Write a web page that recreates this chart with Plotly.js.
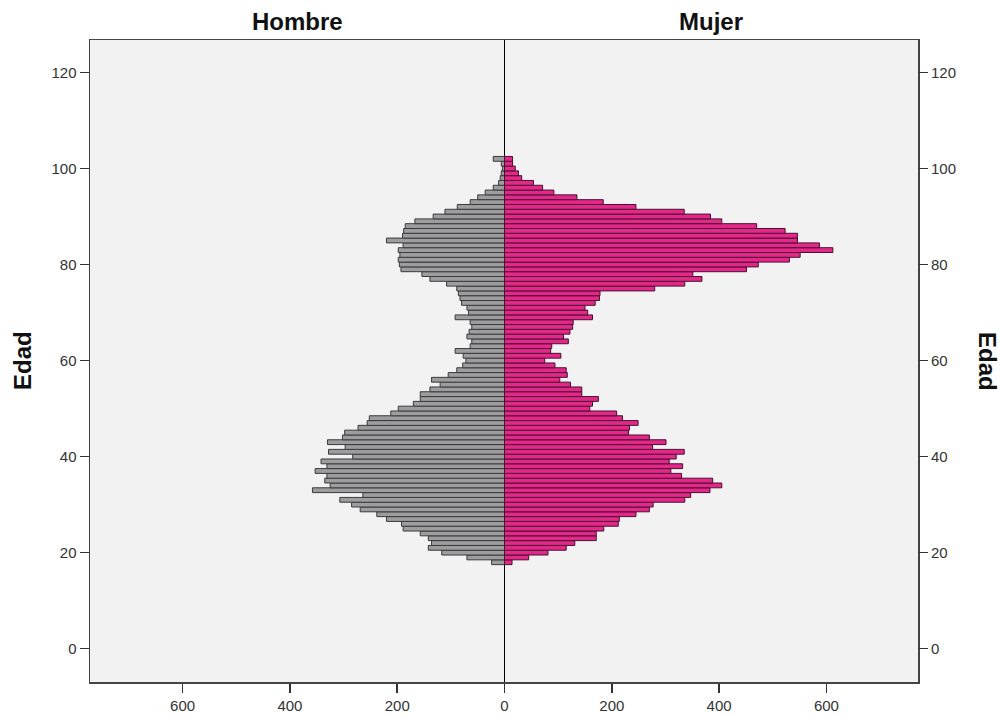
<!DOCTYPE html>
<html>
<head>
<meta charset="utf-8">
<script src="https://cdn.plot.ly/plotly-3.0.1.min.js"></script>
<style>html,body{margin:0;padding:0;background:#fff;}#chart{width:1000px;height:715px;}</style>
</head>
<body>
<div id="chart"></div>
<script>
// Ages 18..102
const ages = [];
for (let a = 18; a <= 102; a++) ages.push(a);

// Hombre counts (age 18 .. 102)
const hombre = [
  24, 70, 117, 142, 136, 142, 157, 189, 192, 220,   // 18-27
  238, 269, 285, 307, 264, 358, 325, 335, 331, 353, // 28-37
  331, 342, 283, 328, 297, 330, 302, 298, 273, 256, // 38-47
  252, 212, 198, 170, 157, 157, 139, 120, 136, 105, // 48-57
  89, 78, 72, 77, 92, 64, 61, 70, 66, 61,           // 58-67
  64, 92, 67, 70, 80, 83, 86, 89, 108, 139,         // 68-77
  154, 193, 196, 198, 195, 198, 189, 220, 190, 188, // 78-87
  185, 167, 133, 111, 88, 64, 50, 36, 21, 11,       // 88-97
  8, 6, 4, 6, 21                                    // 98-102
];

// Mujer counts (age 18 .. 102)
const mujer = [
  14, 45, 81, 115, 131, 171, 171, 185, 212, 214,    // 18-27
  245, 270, 277, 336, 347, 383, 405, 388, 330, 310, // 28-37
  332, 307, 320, 335, 276, 301, 270, 231, 233, 249, // 38-47
  220, 209, 159, 164, 175, 144, 144, 123, 103, 117, // 48-57
  115, 94, 75, 105, 86, 88, 119, 110, 122, 127,     // 58-67
  128, 164, 155, 150, 169, 177, 178, 280, 336, 368, // 68-77
  351, 451, 473, 531, 551, 612, 587, 546, 546, 523, // 78-87
  470, 405, 384, 335, 245, 184, 135, 92, 71, 54,    // 88-97
  32, 26, 20, 15, 15                                // 98-102
];

const xTickVals = [-600, -400, -200, 0, 200, 400, 600];
const xTickText = ['600', '400', '200', '0', '200', '400', '600'];
const yTickVals = [0, 20, 40, 60, 80, 100, 120];

const font = 'Liberation Sans, Arial, sans-serif';

const traces = [
  {
    type: 'bar', orientation: 'h', name: 'Hombre',
    y: ages, x: hombre.map(v => -v),
    marker: {color: '#9d9d9f', line: {color: '#3a3a3a', width: 1}},
    width: 1, hoverinfo: 'skip'
  },
  {
    type: 'bar', orientation: 'h', name: 'Mujer',
    y: ages, x: mujer,
    marker: {color: '#e3288a', line: {color: '#4a1030', width: 1}},
    width: 1, hoverinfo: 'skip'
  },
  {
    type: 'scatter', mode: 'markers', x: [], y: [], yaxis: 'y2', showlegend: false, hoverinfo: 'skip'
  }
];

const layout = {
  width: 1000, height: 715,
  margin: {l: 90, r: 82, t: 40, b: 33},
  paper_bgcolor: '#ffffff',
  plot_bgcolor: '#f2f2f2',
  showlegend: false,
  barmode: 'overlay',
  bargap: 0,
  font: {family: font, size: 15, color: '#333333'},
  xaxis: {
    range: [-772.6, 770.7],
    tickvals: xTickVals, ticktext: xTickText,
    ticks: 'outside', ticklen: 9, tickwidth: 1.5, tickcolor: '#333',
    showgrid: false, zeroline: true, zerolinecolor: '#000', zerolinewidth: 1.5,
    showline: true, linecolor: '#444', linewidth: 1.5, mirror: true,
    tickfont: {family: font, size: 15, color: '#333'}
  },
  yaxis: {
    range: [-6.94, 126.75],
    tickvals: yTickVals,
    ticks: 'outside', ticklen: 9, tickwidth: 1.5, tickcolor: '#333',
    showgrid: false, zeroline: false,
    showline: true, linecolor: '#444', linewidth: 1.5, mirror: true,
    tickfont: {family: font, size: 15, color: '#333'}
  },
  yaxis2: {
    overlaying: 'y', side: 'right',
    range: [-6.94, 126.75],
    tickvals: yTickVals,
    ticks: 'outside', ticklen: 9, tickwidth: 1.5, tickcolor: '#333',
    showgrid: false, zeroline: false, showline: false,
    tickfont: {family: font, size: 15, color: '#333'}
  },
  annotations: [
    {text: '<b>Hombre</b>', xref: 'paper', yref: 'paper', x: 0.25, y: 1, xanchor: 'center', yanchor: 'bottom', yshift: 3,
     showarrow: false, font: {family: font, size: 24, color: '#111'}},
    {text: '<b>Mujer</b>', xref: 'paper', yref: 'paper', x: 0.75, y: 1, xanchor: 'center', yanchor: 'bottom', yshift: 3,
     showarrow: false, font: {family: font, size: 24, color: '#111'}},
    {text: '<b>Edad</b>', xref: 'paper', yref: 'paper', x: 0, y: 0.50, xanchor: 'center', yanchor: 'middle', xshift: -68, textangle: -90,
     showarrow: false, font: {family: font, size: 24, color: '#111'}},
    {text: '<b>Edad</b>', xref: 'paper', yref: 'paper', x: 1, y: 0.50, xanchor: 'center', yanchor: 'middle', xshift: 70, textangle: 90,
     showarrow: false, font: {family: font, size: 24, color: '#111'}}
  ]
};

Plotly.newPlot('chart', traces, layout, {displayModeBar: false, staticPlot: true});
</script>
</body>
</html>
